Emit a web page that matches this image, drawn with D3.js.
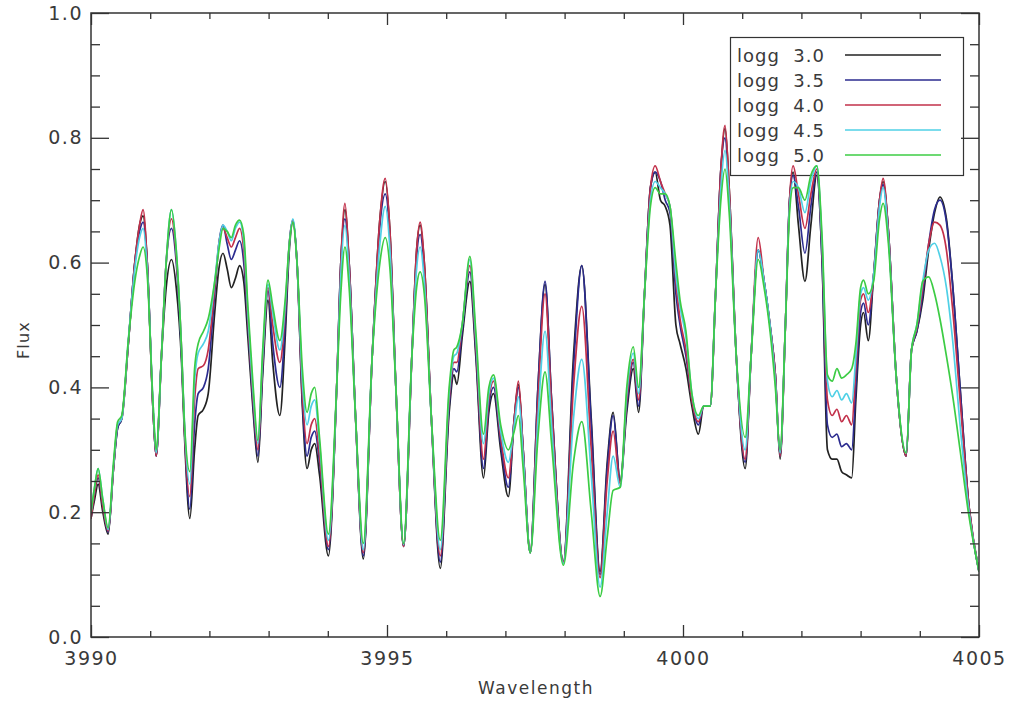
<!DOCTYPE html>
<html>
<head>
<meta charset="utf-8">
<script src="https://cdn.jsdelivr.net/npm/d3@7/dist/d3.min.js"></script>
<style>
  html, body { margin: 0; padding: 0; background: #fff; }
  svg { display: block; }
  text { font-family: "DejaVu Sans", sans-serif; fill: #3a3a3a; }
</style>
</head>
<body>
<svg id="chart" width="1011" height="707"></svg>
<script>
// ---------------- DATA ----------------
const wavelength = [
  3990.00,3990.06,3990.12,3990.20,3990.29,3990.38,3990.45,3990.52,3990.63,3990.74,
  3990.82,3990.88,3990.95,3991.05,3991.10,3991.19,3991.27,3991.36,3991.44,3991.53,
  3991.58,3991.67,3991.75,3991.81,3991.90,3991.98,3992.09,3992.16,3992.23,3992.30,
  3992.37,3992.44,3992.51,3992.58,3992.65,3992.74,3992.82,3992.90,3992.99,3993.07,
  3993.19,3993.28,3993.35,3993.41,3993.48,3993.57,3993.65,3993.72,3993.78,3993.86,
  3994.01,3994.15,3994.22,3994.29,3994.36,3994.47,3994.60,3994.75,3994.88,3994.97,
  3995.05,3995.15,3995.28,3995.42,3995.50,3995.56,3995.63,3995.75,3995.90,3996.05,
  3996.13,3996.18,3996.27,3996.40,3996.50,3996.63,3996.72,3996.80,3996.92,3997.05,
  3997.15,3997.22,3997.30,3997.42,3997.55,3997.67,3997.78,3997.98,3998.15,3998.29,
  3998.45,3998.60,3998.72,3998.82,3998.94,3999.05,3999.16,3999.25,3999.35,3999.45,
  3999.53,3999.62,3999.70,3999.78,3999.88,3999.95,4000.05,4000.15,4000.26,4000.35,
  4000.46,4000.55,4000.64,4000.71,4000.78,4000.90,4001.05,4001.15,4001.27,4001.37,
  4001.47,4001.56,4001.64,4001.73,4001.80,4001.86,4001.95,4002.06,4002.16,4002.26,
  4002.35,4002.44,4002.52,4002.60,4002.68,4002.76,4002.85,4002.92,4003.00,4003.05,
  4003.13,4003.22,4003.32,4003.38,4003.47,4003.60,4003.77,4003.86,4003.95,4004.05,
  4004.15,4004.25,4004.34,4004.45,4004.55,4004.68,4004.82,4005.00
];

const fluxLogg30 = [
  .19,.22,.245,.20,.165,.27,.335,.35,.47,.6,
  .66,.675,.6,.36,.29,.45,.56,.605,.56,.44,
  .32,.19,.3,.355,.365,.39,.52,.59,.615,.59,
  .56,.575,.595,.57,.48,.36,.28,.42,.54,.44,
  .355,.48,.62,.665,.6,.37,.27,.30,.31,.26,
  .13,.4,.6,.685,.6,.35,.125,.45,.67,.73,
  .65,.4,.145,.45,.62,.66,.6,.35,.11,.36,
  .42,.405,.48,.57,.45,.255,.36,.39,.3,.225,
  .35,.405,.3,.135,.4,.565,.38,.12,.45,.595,
  .35,.105,.28,.36,.25,.36,.43,.36,.55,.72,
  .745,.7,.69,.66,.5,.47,.43,.37,.325,.37,
  .37,.55,.75,.815,.72,.45,.27,.45,.62,.57,
  .5,.42,.285,.5,.7,.745,.66,.57,.66,.74,
  .6,.3,.285,.285,.265,.26,.255,.38,.5,.52,
  .475,.58,.7,.73,.65,.42,.29,.46,.49,.54,
  .62,.68,.705,.67,.57,.40,.22,.105
];
const fluxLogg35 = [
  .19,.23,.255,.21,.168,.27,.335,.35,.47,.6,
  .65,.665,.6,.36,.29,.45,.6,.655,.6,.45,
  .33,.205,.34,.39,.40,.43,.55,.63,.66,.63,
  .605,.62,.635,.6,.5,.37,.29,.43,.555,.47,
  .40,.5,.63,.668,.6,.38,.29,.32,.33,.28,
  .14,.4,.6,.67,.6,.35,.13,.45,.66,.71,
  .64,.4,.145,.45,.61,.645,.59,.35,.12,.37,
  .43,.425,.49,.585,.46,.27,.37,.40,.31,.24,
  .35,.40,.3,.135,.4,.57,.38,.12,.43,.595,
  .34,.1,.27,.355,.25,.37,.44,.37,.55,.72,
  .745,.73,.70,.68,.55,.5,.45,.38,.34,.37,
  .37,.55,.75,.8,.71,.45,.28,.45,.62,.57,
  .5,.42,.29,.5,.7,.74,.69,.615,.69,.745,
  .6,.34,.32,.325,.305,.31,.30,.4,.52,.535,
  .5,.58,.7,.725,.65,.42,.29,.46,.49,.55,
  .63,.685,.70,.665,.57,.40,.22,.105
];
const fluxLogg40 = [
  .19,.23,.26,.21,.17,.27,.34,.35,.47,.6,
  .66,.685,.6,.36,.29,.45,.6,.67,.61,.46,
  .33,.225,.38,.43,.435,.46,.56,.63,.655,.64,
  .625,.64,.655,.62,.51,.38,.30,.44,.56,.5,
  .44,.52,.63,.668,.6,.39,.31,.34,.35,.29,
  .145,.4,.6,.695,.6,.35,.135,.45,.67,.735,
  .65,.4,.145,.45,.62,.665,.6,.35,.13,.38,
  .44,.44,.5,.595,.47,.285,.38,.41,.32,.255,
  .35,.41,.3,.135,.38,.55,.37,.12,.4,.53,
  .3,.095,.25,.33,.245,.38,.445,.38,.55,.72,
  .755,.73,.71,.69,.57,.51,.46,.38,.345,.37,
  .37,.55,.75,.82,.72,.45,.285,.45,.64,.57,
  .5,.42,.29,.5,.7,.755,.71,.655,.71,.75,
  .62,.38,.355,.365,.345,.355,.34,.43,.54,.55,
  .52,.58,.7,.735,.65,.42,.29,.46,.495,.56,
  .63,.665,.66,.62,.53,.38,.22,.105
];
const fluxLogg45 = [
  .20,.24,.27,.22,.172,.275,.34,.35,.475,.59,
  .64,.655,.59,.37,.295,.45,.6,.685,.62,.46,
  .34,.245,.41,.455,.47,.49,.57,.63,.66,.65,
  .635,.655,.665,.635,.52,.39,.31,.45,.565,.52,
  .46,.53,.63,.67,.6,.41,.34,.37,.38,.31,
  .155,.4,.58,.66,.58,.35,.14,.45,.63,.69,
  .62,.4,.148,.45,.59,.625,.57,.35,.14,.39,
  .45,.455,.5,.605,.48,.31,.39,.415,.33,.28,
  .34,.385,.29,.135,.35,.49,.34,.118,.35,.445,
  .26,.08,.2,.29,.24,.39,.455,.39,.55,.7,
  .73,.72,.71,.69,.58,.53,.48,.39,.35,.37,
  .37,.55,.72,.78,.7,.45,.3,.45,.62,.57,
  .5,.41,.295,.5,.69,.73,.72,.68,.73,.755,
  .63,.41,.385,.395,.38,.39,.375,.45,.55,.56,
  .54,.58,.69,.72,.64,.42,.295,.46,.5,.57,
  .62,.631,.61,.56,.48,.34,.21,.105
];
const fluxLogg50 = [
  .20,.24,.27,.22,.175,.28,.345,.355,.475,.57,
  .61,.625,.58,.37,.30,.45,.6,.685,.62,.46,
  .34,.265,.43,.47,.49,.51,.57,.62,.655,.65,
  .64,.66,.668,.645,.53,.4,.315,.46,.572,.53,
  .475,.54,.63,.665,.6,.43,.36,.39,.40,.32,
  .165,.4,.55,.625,.56,.35,.15,.45,.6,.64,
  .59,.4,.15,.45,.56,.585,.55,.35,.155,.4,
  .46,.465,.5,.61,.49,.325,.4,.42,.34,.30,
  .33,.355,.27,.135,.32,.425,.31,.115,.28,.345,
  .2,.065,.16,.235,.24,.4,.465,.40,.55,.69,
  .72,.71,.71,.69,.6,.54,.49,.39,.355,.37,
  .37,.55,.7,.75,.68,.45,.32,.45,.605,.56,
  .49,.4,.30,.5,.68,.72,.72,.70,.74,.755,
  .64,.42,.41,.43,.415,.42,.43,.47,.56,.572,
  .55,.57,.67,.695,.63,.42,.295,.46,.5,.57,
  .577,.55,.51,.45,.39,.3,.2,.105
];

const seriesLabels = ["logg  3.0", "logg  3.5", "logg  4.0", "logg  4.5", "logg  5.0"];
const seriesColors = ["#222222", "#2b2b8f", "#c2304a", "#4fd0e6", "#3ccc44"];
const xMajorTicks = [3990, 3995, 4000, 4005];
const xMinorTicks = [3991,3992,3993,3994,3996,3997,3998,3999,4001,4002,4003,4004];
const yMajorTicks = [0.0, 0.2, 0.4, 0.6, 0.8, 1.0];
const yMinorTicks = [0.05,0.1,0.15,0.25,0.3,0.35,0.45,0.5,0.55,0.65,0.7,0.75,0.85,0.9,0.95];
const xTitle = "Wavelength";
const yTitle = "Flux";

// ---------------- CHART ----------------
const fluxes = [fluxLogg30, fluxLogg35, fluxLogg40, fluxLogg45, fluxLogg50];
const svg = d3.select("#chart");
const pL = 91, pR = 979, pT = 13, pB = 637;

const x = d3.scaleLinear().domain([3990, 4005]).range([pL, pR]);
const y = d3.scaleLinear().domain([0, 1]).range([pB, pT]);

svg.append("defs").append("clipPath").attr("id", "plotclip")
  .append("rect").attr("x", pL).attr("y", pT).attr("width", pR - pL).attr("height", pB - pT);

// Legend box (drawn under the curves)
const leg = svg.append("g").attr("class", "legend");
leg.append("rect").attr("x", 730.5).attr("y", 37.5).attr("width", 233).attr("height", 138)
  .attr("fill", "none").attr("stroke", "#333").attr("stroke-width", 1.2);
seriesLabels.forEach((lab, i) => {
  const cy = 55 + i * 25;
  leg.append("text").attr("x", 737).attr("y", cy + 7)
    .attr("font-size", 18).attr("letter-spacing", 1)
    .style("white-space", "pre").text(lab);
  leg.append("line").attr("x1", 845).attr("x2", 941).attr("y1", cy).attr("y2", cy)
    .attr("stroke", seriesColors[i]).attr("stroke-width", 1.3);
});

// Curves
const line = d3.line()
  .x((d, i) => x(wavelength[i]))
  .y(d => y(d))
  .curve(d3.curveMonotoneX);

svg.append("g").attr("clip-path", "url(#plotclip)")
  .selectAll("path").data(fluxes).join("path")
  .attr("d", d => line(d))
  .attr("fill", "none")
  .attr("stroke", (d, i) => seriesColors[i])
  .attr("stroke-width", 1.7)
  .attr("stroke-linejoin", "round");

// Axes
function styleAxis(g) {
  g.select(".domain").remove();
  g.selectAll(".tick line").attr("stroke", "#333").attr("stroke-width", 1.3);
  g.selectAll(".tick text").attr("fill", "#3a3a3a").attr("font-size", 19)
    .attr("font-family", "DejaVu Sans, sans-serif").attr("letter-spacing", 1.5);
}
svg.append("g").attr("transform", `translate(0,${pB})`)
  .call(d3.axisBottom(x).tickValues(xMajorTicks).tickSize(-12).tickPadding(15).tickFormat(d3.format("d")))
  .call(styleAxis);
svg.append("g").attr("transform", `translate(0,${pB})`)
  .call(d3.axisBottom(x).tickValues(xMinorTicks).tickSize(-6).tickFormat(""))
  .call(styleAxis);
svg.append("g").attr("transform", `translate(0,${pT})`)
  .call(d3.axisTop(x).tickValues(xMajorTicks).tickSize(-12).tickFormat(""))
  .call(styleAxis);
svg.append("g").attr("transform", `translate(0,${pT})`)
  .call(d3.axisTop(x).tickValues(xMinorTicks).tickSize(-6).tickFormat(""))
  .call(styleAxis);
svg.append("g").attr("transform", `translate(${pL},0)`)
  .call(d3.axisLeft(y).tickValues(yMajorTicks).tickSize(-18).tickPadding(8).tickFormat(d3.format(".1f")))
  .call(styleAxis);
svg.append("g").attr("transform", `translate(${pL},0)`)
  .call(d3.axisLeft(y).tickValues(yMinorTicks).tickSize(-9).tickFormat(""))
  .call(styleAxis);
svg.append("g").attr("transform", `translate(${pR},0)`)
  .call(d3.axisRight(y).tickValues(yMajorTicks).tickSize(-18).tickFormat(""))
  .call(styleAxis);
svg.append("g").attr("transform", `translate(${pR},0)`)
  .call(d3.axisRight(y).tickValues(yMinorTicks).tickSize(-9).tickFormat(""))
  .call(styleAxis);

// Frame
svg.append("rect").attr("x", pL).attr("y", pT).attr("width", pR - pL).attr("height", pB - pT)
  .attr("fill", "none").attr("stroke", "#333").attr("stroke-width", 1.5);

// Titles
svg.append("text").attr("x", 536).attr("y", 694).attr("text-anchor", "middle")
  .attr("font-size", 17).attr("letter-spacing", 1.5).text(xTitle);
svg.append("text").attr("transform", "translate(29,340) rotate(-90)").attr("text-anchor", "middle")
  .attr("font-size", 16).attr("letter-spacing", 1.2).text(yTitle);
</script>
</body>
</html>
